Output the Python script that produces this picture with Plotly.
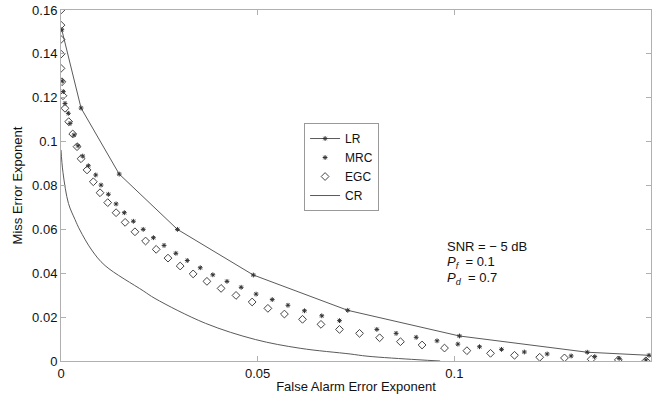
import plotly.graph_objects as go

# LR (line with star markers)
lr_x = [0.0002, 0.0051, 0.0148, 0.0296, 0.0489, 0.0729, 0.1013, 0.1338, 0.1495]
lr_y = [0.151, 0.1153, 0.0852, 0.0600, 0.0392, 0.0231, 0.0114, 0.0040, 0.0026]

# MRC (star markers)
mrc_x = [0.00033, 0.00059, 0.00102, 0.00186, 0.00229, 0.00331, 0.00433, 0.00552, 0.00695,
         0.00883, 0.01018, 0.01204, 0.0140, 0.0161, 0.0184, 0.0209, 0.0235, 0.0262, 0.0292,
         0.0321, 0.0354, 0.0386, 0.0422, 0.0458, 0.0496, 0.0537, 0.0577, 0.0619, 0.0663,
         0.0708, 0.0803, 0.0852, 0.0903, 0.0956, 0.1009, 0.1064, 0.1120, 0.1178, 0.1236,
         0.1297, 0.1357, 0.1419, 0.1487]
mrc_y = [0.1276, 0.1228, 0.1174, 0.1129, 0.1083, 0.1030, 0.0981, 0.0934, 0.0890,
         0.0848, 0.0802, 0.0760, 0.0716, 0.0676, 0.0637, 0.0600, 0.0562, 0.0527, 0.0491,
         0.0458, 0.0425, 0.0393, 0.0363, 0.0336, 0.0305, 0.0280, 0.0254, 0.0229, 0.0206,
         0.0184, 0.0144, 0.0126, 0.0108, 0.0092, 0.0077, 0.0065, 0.0053, 0.0041, 0.0032,
         0.0023, 0.0020, 0.0012, 0.0005]

# EGC (open diamonds)
egc_x = [0.0, 0.0, 0.0, 0.0, 0.0, 0.00025, 0.0005, 0.00102, 0.00196, 0.00298, 0.00407,
         0.00509, 0.00662, 0.00822, 0.00992, 0.01188, 0.0140, 0.0163, 0.0188, 0.0215,
         0.0242, 0.0272, 0.0303, 0.0336, 0.0371, 0.0407, 0.0445, 0.0486, 0.0526, 0.0568,
         0.0614, 0.0661, 0.0708, 0.0759, 0.0810, 0.0863, 0.0918, 0.0975, 0.1032, 0.1092,
         0.1153, 0.1217, 0.1280, 0.1348, 0.1417, 0.1487]
egc_y = [0.160, 0.1531, 0.1466, 0.1399, 0.1334, 0.1273, 0.1209, 0.1152, 0.1091, 0.1035, 0.0977,
         0.0922, 0.0871, 0.0817, 0.0767, 0.0722, 0.0676, 0.0632, 0.0589, 0.0547,
         0.0509, 0.0469, 0.0433, 0.0397, 0.0363, 0.0331, 0.0299, 0.0269, 0.0240, 0.0214,
         0.0190, 0.0167, 0.0144, 0.0126, 0.0106, 0.0088, 0.0073, 0.0059, 0.0047, 0.0035,
         0.0026, 0.0017, 0.0014, 0.0008, 0.0005, 0.0001]

# CR (line)
cr_x = [0.0, 0.0005, 0.0019, 0.00356, 0.0048, 0.0078, 0.0112, 0.0209,
        0.0239, 0.0367, 0.0494, 0.0608, 0.0735, 0.0778, 0.0905, 0.0964]
cr_y = [0.0962, 0.0860, 0.0718, 0.0645, 0.0597, 0.0506, 0.0435, 0.0320,
        0.0285, 0.0172, 0.0098, 0.0058, 0.0032, 0.0022, 0.0006, 0.0]

x_ticks = [0, 0.05, 0.1, 0.15]
x_tick_text = ["0", "0.05", "0.1", "0.15"]
y_ticks = [0, 0.02, 0.04, 0.06, 0.08, 0.1, 0.12, 0.14, 0.16]
y_tick_text = ["0", "0.02", "0.04", "0.06", "0.08", "0.1", "0.12", "0.14", "0.16"]

line_col = "#5a5a5a"
mark_col = "#333333"
fam = "Liberation Sans, Arial, sans-serif"

fig = go.Figure()
fig.add_trace(go.Scatter(x=lr_x, y=lr_y, name="LR", mode="lines+markers",
                         line=dict(color=line_col, width=1),
                         marker=dict(symbol="asterisk-open", size=4, color=mark_col,
                                     line=dict(color=mark_col, width=1))))
fig.add_trace(go.Scatter(x=mrc_x, y=mrc_y, name="MRC", mode="markers",
                         marker=dict(symbol="asterisk-open", size=4, color=mark_col,
                                     line=dict(color=mark_col, width=1))))
fig.add_trace(go.Scatter(x=egc_x, y=egc_y, name="EGC", mode="markers",
                         marker=dict(symbol="diamond-open", size=6, color="#444444",
                                     line=dict(color="#444444", width=1))))
fig.add_trace(go.Scatter(x=cr_x, y=cr_y, name="CR", mode="lines",
                         line=dict(color=line_col, width=1, shape="spline", smoothing=1.0)))

font = dict(family=fam, size=13, color="#111111")

fig.update_layout(
    width=663, height=403,
    margin=dict(l=61, r=12, t=10, b=42),
    paper_bgcolor="white", plot_bgcolor="white",
    font=font,
    showlegend=True,
    legend=dict(x=0.412, y=0.678, xanchor="left", yanchor="top",
                bgcolor="white", bordercolor="#999999", borderwidth=1,
                font=dict(family=fam, size=12, color="#111111"),
                tracegroupgap=0, itemwidth=30),
    xaxis=dict(range=[0, 0.15], tickvals=x_ticks, ticktext=x_tick_text, automargin=False,
               showgrid=False, zeroline=False, showline=True, linecolor="#b0b0b0",
               linewidth=1, mirror="ticks", ticks="inside", ticklen=5, tickcolor="#b0b0b0",
               tickfont=dict(size=13),
               title=dict(text="False Alarm Error Exponent", standoff=2,
                          font=dict(size=13))),
    yaxis=dict(range=[0, 0.16], tickvals=y_ticks, ticktext=y_tick_text, automargin=False,
               showgrid=False, zeroline=False, showline=True, linecolor="#b0b0b0",
               linewidth=1, mirror="ticks", ticks="inside", ticklen=5, tickcolor="#b0b0b0",
               tickfont=dict(size=13),
               title=dict(text="Miss Error Exponent", standoff=6,
                          font=dict(size=13))),
)

fig.add_annotation(x=0.0977, y=0.0520, xref="x", yref="y", xanchor="left", yanchor="middle",
                   text="SNR = \u2212 5 dB", showarrow=False, font=dict(size=13))
fig.add_annotation(x=0.0977, y=0.0450, xref="x", yref="y", xanchor="left", yanchor="middle",
                   text="<i>P</i><sub><i>f</i></sub>  = 0.1", showarrow=False, font=dict(size=13))
fig.add_annotation(x=0.0977, y=0.0378, xref="x", yref="y", xanchor="left", yanchor="middle",
                   text="<i>P</i><sub><i>d</i></sub>  = 0.7", showarrow=False, font=dict(size=13))

fig.write_html("out.html", config={"displayModeBar": False},
               post_script="document.body.style.margin='0';document.body.style.padding='0';")
